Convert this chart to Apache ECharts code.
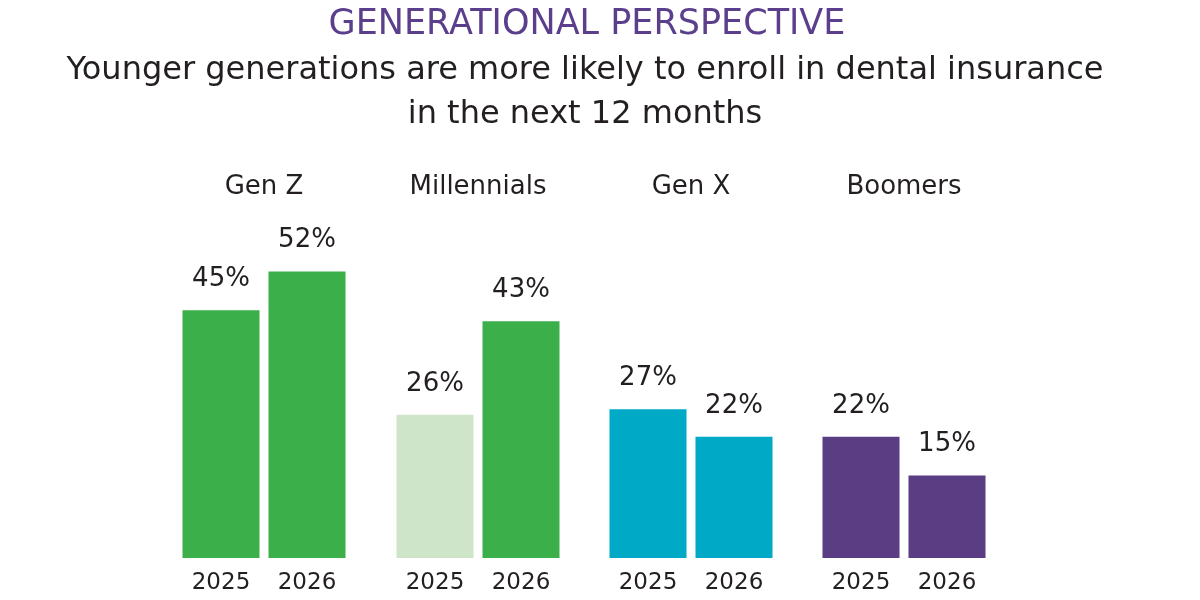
<!DOCTYPE html>
<html>
<head>
<meta charset="utf-8">
<title>Generational perspective</title>
<script src="https://cdn.jsdelivr.net/npm/echarts@6/dist/echarts.min.js"></script>
<style>
  html, body { margin: 0; padding: 0; background: #fff; }
  #chart { width: 1200px; height: 600px; }
</style>
</head>
<body>
<div id="chart"></div>
<script>
// data
var groups = ['Gen Z', 'Millennials', 'Gen X', 'Boomers'];
var years = ['2025', '2026'];
var values2025 = [45, 26, 27, 22];
var values2026 = [52, 43, 22, 15];
var colors2025 = ['#3BAF4A', '#CFE5CA', '#00A9C6', '#5A3D82'];
var colors2026 = ['#3BAF4A', '#3BAF4A', '#00A9C6', '#5A3D82'];

var font = 'DejaVu Sans';
var grids = [], xAxes = [], yAxes = [], series = [];
var lefts = [178, 392, 605, 818];

groups.forEach(function (g, i) {
    grids.push({ left: lefts[i], width: 172, top: 200, bottom: 42 });
    // years under the bars
    xAxes.push({
        type: 'category', gridIndex: i, data: years,
        axisLine: { show: false }, axisTick: { show: false },
        axisLabel: { fontSize: 23, color: '#231F20', fontFamily: font, margin: 14 }
    });
    // group name above
    xAxes.push({
        type: 'category', gridIndex: i, position: 'top', data: [g],
        axisLine: { show: false }, axisTick: { show: false },
        axisLabel: { fontSize: 26, color: '#231F20', fontFamily: font, margin: 0 }
    });
    yAxes.push({ type: 'value', gridIndex: i, min: 0, max: 65, show: false });
    series.push({
        type: 'bar', xAxisIndex: i * 2, yAxisIndex: i,
        barWidth: 77,
        data: [
            { value: values2025[i], itemStyle: { color: colors2025[i] } },
            { value: values2026[i], itemStyle: { color: colors2026[i] } }
        ],
        label: {
            show: true, position: 'top', distance: 18,
            formatter: '{c}%', fontSize: 26, color: '#231F20', fontFamily: font
        }
    });
});

var myChart = echarts.init(document.getElementById('chart'));
myChart.setOption({
    animation: false,
    title: [{
        text: 'GENERATIONAL PERSPECTIVE',
        left: 582, top: 2, textAlign: 'center',
        textStyle: { fontSize: 35, fontWeight: 'normal', color: '#5B3F8C', fontFamily: font }
    }, {
        text: 'Younger generations are more likely to enroll in dental insurance\nin the next 12 months',
        left: 580, top: 44, textAlign: 'center',
        textStyle: { fontSize: 32, fontWeight: 'normal', color: '#231F20', fontFamily: font, lineHeight: 44, align: 'center' }
    }],
    grid: grids,
    xAxis: xAxes,
    yAxis: yAxes,
    series: series
});
</script>
</body>
</html>
